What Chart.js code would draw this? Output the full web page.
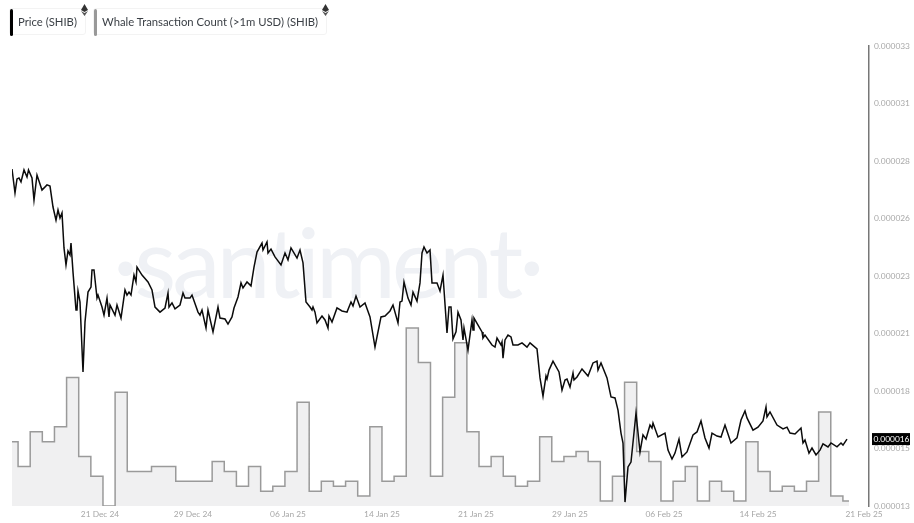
<!DOCTYPE html>
<html><head><meta charset="utf-8">
<script src="https://cdn.jsdelivr.net/npm/chart.js@4"></script>
<style>
html,body{margin:0;padding:0;background:#fff;width:914px;height:523px;overflow:hidden;font-family:Lato,sans-serif}
#wrap{position:relative;width:914px;height:523px}
#wm{position:absolute;left:113px;top:205px;font:400 97px Lato,sans-serif;color:#eff1f5;letter-spacing:-4px;white-space:nowrap;line-height:112px}
#chart{position:absolute;left:0;top:0}
.chip{position:absolute;top:8px;height:27px;box-sizing:border-box;border:1px solid #f3f3f3;border-radius:3px;font-size:11.3px;line-height:27px;color:#3a3f45;white-space:nowrap;background:#fff}
.chip i{position:absolute;left:0;top:0;width:3px;height:27px;border-radius:2px}
.chip span{position:absolute;left:8px;top:-1px}
.eth{position:absolute;width:7px;height:12px}
</style></head><body>
<div id="wrap">
<div id="wm">·santiment·</div>
<canvas id="chart" width="914" height="523"></canvas>
<div class="chip" style="left:9px;width:77px"><i style="background:#000"></i><span>Price (SHIB)</span></div>
<div class="chip" style="left:93px;width:234px"><i style="background:#999"></i><span>Whale Transaction Count (&gt;1m USD) (SHIB)</span></div>
<svg class="eth" style="left:81px;top:4px" viewBox="0 0 7 12"><path d="M3.5 0L7 6 3.5 8 0 6z" fill="#333"/><path d="M0 7l3.5 2L7 7l-3.5 5z" fill="#555"/></svg>
<svg class="eth" style="left:322px;top:4px" viewBox="0 0 7 12"><path d="M3.5 0L7 6 3.5 8 0 6z" fill="#333"/><path d="M0 7l3.5 2L7 7l-3.5 5z" fill="#555"/></svg>
</div>
<script>
// Hours since the first sample; price in millionths of a USD
const priceHours = [0,6,10,14,18,24,30,33,40,44,50,60,70,76,82,88,92,96,100,104,108,112,116,118,122,128,130,132,136,142,146,152,158,160,164,170,172,180,184,190,194,196,206,210,218,226,230,234,238,244,248,250,260,272,280,286,296,306,312,314,320,326,336,342,346,356,360,372,376,380,388,392,402,412,416,426,432,440,444,452,458,462,470,478,484,490,500,502,510,512,518,526,538,546,552,558,570,576,582,588,596,600,602,606,610,620,626,632,634,640,650,660,670,678,682,688,696,706,716,726,730,738,746,756,762,772,776,780,784,792,798,802,810,816,820,824,830,836,840,850,856,862,870,874,878,882,888,892,898,902,904,912,920,922,924,940,942,946,960,966,970,978,980,982,986,992,998,1002,1012,1020,1030,1036,1050,1056,1062,1068,1070,1074,1082,1094,1100,1106,1110,1116,1122,1124,1130,1140,1152,1162,1170,1172,1178,1190,1198,1206,1212,1218,1222,1226,1232,1238,1248,1256,1262,1268,1276,1280,1282,1292,1306,1312,1320,1326,1334,1340,1350,1362,1370,1378,1386,1394,1400,1410,1418,1426,1438,1450,1458,1466,1470,1482,1492,1502,1508,1510,1516,1530,1542,1550,1556,1566,1578,1582,1586,1594,1600,1608,1616,1622,1632,1638,1650,1658,1662,1670];
const priceValues = [27.65,26.61,27.22,27.26,27.09,27.61,27.30,27.61,27.26,26.30,27.39,26.74,26.96,26.91,26.00,25.43,25.87,25.52,25.74,24.22,23.48,24.09,23.91,24.43,23.17,21.52,21.52,22.35,21.87,18.83,21.00,22.30,22.52,23.26,23.26,22.04,22.17,21.65,21.30,22.04,21.22,21.74,21.30,21.74,21.17,22.39,22.17,22.30,22.17,23.04,22.74,23.39,23.04,22.74,22.39,21.65,21.43,21.61,22.26,21.65,21.83,21.57,21.74,22.26,22.04,22.04,22.17,21.43,21.30,21.52,20.74,21.52,20.57,21.65,21.17,21.13,20.91,21.22,21.61,22.09,22.70,22.48,22.74,22.57,23.39,24.04,24.43,24.13,24.48,24.00,24.17,23.83,23.48,24.00,23.70,24.22,23.78,24.13,23.57,21.87,21.65,21.52,21.65,21.43,20.96,21.26,21.09,20.74,21.26,21.00,21.61,21.48,21.43,21.87,21.70,22.13,21.65,21.83,21.22,19.91,20.35,21.22,21.26,21.48,21.74,20.96,21.87,21.91,22.74,22.04,21.74,22.30,21.91,22.70,24.00,24.26,24.00,24.13,22.70,22.70,22.35,23.04,20.52,21.65,21.65,20.26,20.57,21.43,21.09,20.22,20.74,19.78,21.09,20.65,21.17,20.57,20.30,20.43,20.00,19.91,20.30,20.00,20.13,19.43,20.22,20.43,20.35,20.00,20.00,20.09,19.91,20.09,19.83,18.57,17.78,18.65,18.52,18.91,19.30,18.83,18.04,18.48,18.52,18.17,18.78,18.48,18.61,18.96,18.65,19.22,19.30,18.91,19.22,18.57,17.74,17.70,17.17,16.17,15.74,13.17,14.70,14.91,17.04,15.35,16.09,15.91,16.52,16.39,16.61,16.00,16.17,15.43,15.04,15.30,15.91,15.13,15.35,16.09,16.22,16.70,15.96,15.52,16.17,16.04,16.00,16.52,15.74,15.96,16.74,17.13,16.83,16.30,16.43,16.70,17.30,16.87,17.09,16.52,16.35,16.43,16.17,16.13,16.39,15.74,15.87,15.30,15.52,15.22,15.43,15.70,15.57,15.74,15.57,15.74,15.65,15.91];
const whaleCounts = [13,8,15,13,16,26,10,6,0,23,7,7,8,8,5,5,5,9,7,4,8,3,4,7,21,3,5,4,5,2,16,5,6,36,29,6,22,33,15,8,10,6,4,5,14,9,10,11,9,1,6,25,11,9,1,5,8,1,5,3,1,13,7,3,4,3,5,19,2,1];
const whaleStepHours = 24.26;
const yTickValues = [13,15.5,18,20.5,23,25.5,28,30.5,33];
const yTickLabels = ['0.000013','0.000015','0.000018','0.000021','0.000023','0.000026','0.000028','0.000031','0.000033'];
const xTickHours = [176,362,552,740,928,1116,1304,1492,1704];
const xTickLabels = ['21 Dec 24','29 Dec 24','06 Jan 25','14 Jan 25','21 Jan 25','29 Jan 25','06 Feb 25','14 Feb 25','21 Feb 25'];
const currentPriceLabel = '0.000016';

const tickFont = {family:'Lato, sans-serif', size:8.4};
const badge = {
  id:'badge',
  afterDatasetsDraw(c){
    const y = c.scales.y.getPixelForValue(priceValues[priceValues.length-1]);
    const g = c.ctx; g.save();
    g.fillStyle='#000'; g.fillRect(872,y-6,38,12);
    g.fillStyle='#fff'; g.font='8.4px Lato, sans-serif'; g.textAlign='left'; g.textBaseline='middle';
    g.fillText(currentPriceLabel,873.5,y+0.5);
    g.restore();
  }
};
new Chart(document.getElementById('chart'),{
  type:'line',
  data:{datasets:[
    {label:'Price (SHIB)',yAxisID:'y',order:1,
     data:priceHours.map((h,i)=>({x:h,y:priceValues[i]})),
     borderColor:'#0b0b0b',borderWidth:1.5,pointRadius:0,tension:0,fill:false},
    {label:'Whale Transaction Count (>1m USD) (SHIB)',yAxisID:'w',order:2,
     data:whaleCounts.map((v,i)=>({x:i*whaleStepHours,y:v})),
     borderColor:'#9a9a9a',borderWidth:1.5,pointRadius:0,stepped:'middle',
     fill:'origin',backgroundColor:'#f0f0f1'}
  ]},
  options:{
    responsive:false,animation:false,
    layout:{padding:{left:12,top:46,right:0,bottom:0}},
    plugins:{legend:{display:false},tooltip:{enabled:false}},
    scales:{
      x:{type:'linear',min:0,max:1714,
        grid:{display:false,drawTicks:false,tickLength:0},border:{display:false},
        afterBuildTicks(a){a.ticks=xTickHours.map(v=>({value:v}));},
        afterFit(a){a.height=17;},
        ticks:{autoSkip:false,maxRotation:0,color:'#a8a8a8',font:tickFont,padding:3,
          callback(v,i){return xTickLabels[i];}}},
      y:{position:'right',min:13,max:33,
        grid:{display:false,drawTicks:false,tickLength:0},
        border:{display:true,color:'#777',width:1.5},
        afterBuildTicks(a){a.ticks=yTickValues.map(v=>({value:v}));},
        afterFit(a){a.width=45;},
        ticks:{color:'#a8a8a8',font:tickFont,padding:5,
          callback(v,i){return yTickLabels[i];}}},
      w:{display:false,min:0,max:93}
    }
  },
  plugins:[badge]
});
</script>
</body></html>
